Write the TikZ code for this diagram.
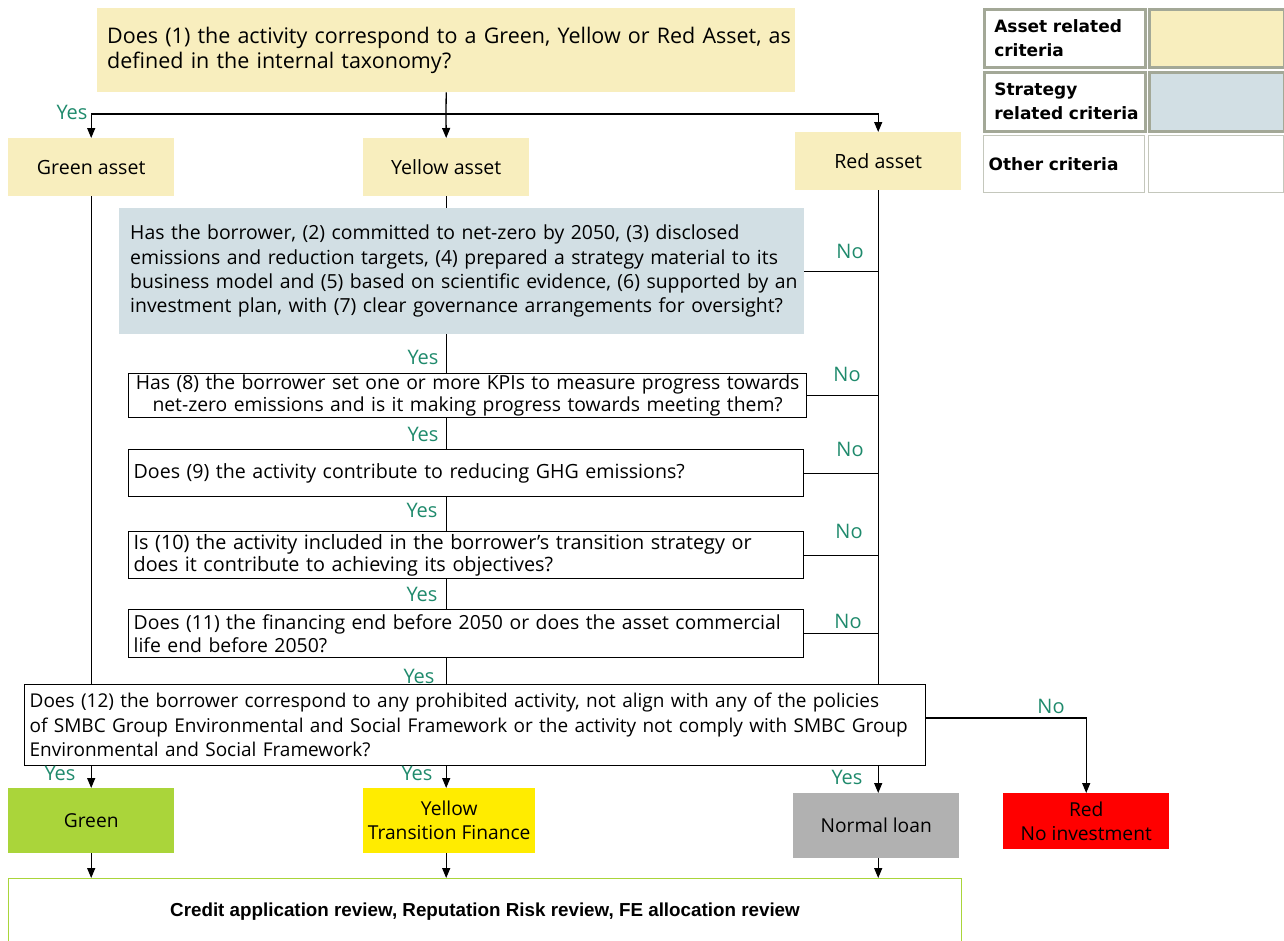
\documentclass[tikz,border=0pt]{standalone}
\usepackage{fontspec}
\setmainfont{Open Sans}
\newfontfamily\legfont{DejaVu Sans}
\newfontfamily\botfont{Liberation Sans}
\usetikzlibrary{arrows.meta}
\definecolor{assetY}{HTML}{F8EEBE}
\definecolor{stratB}{HTML}{D2DFE4}
\definecolor{yesG}{HTML}{1F8A6C}
\definecolor{greenB}{HTML}{AAD53A}
\definecolor{yellowB}{HTML}{FFEC00}
\definecolor{greyB}{HTML}{B1B1B1}
\definecolor{legB}{HTML}{A3A897}
\definecolor{legC}{HTML}{C4C7BC}
\newcommand{\oneline}[1]{\mbox{#1}}
\begin{document}
\begin{tikzpicture}[x=1pt,y=-1pt,
  base/.style={anchor=north west, inner sep=0pt, font=\fontsize{19.6}{24.5}\selectfont},
  abox/.style={base, fill=assetY, align=center},
  qbox/.style={base, draw=black, line width=1.3pt, align=left, inner xsep=5pt},
  sbox/.style={base, fill=stratB, align=left, inner xsep=11pt},
  rbox/.style={base, align=center, font=\fontsize{19.2}{24}\selectfont},
  lab/.style={text=yesG, font=\fontsize{20}{22}\selectfont, inner sep=0pt},
  conn/.style={line width=1.3pt},
  arr/.style={conn, -{Triangle[length=10pt,width=8pt]}},
  legl/.style={anchor=north west, inner sep=0pt, draw=legB, line width=2.5pt, align=left, font=\legfont\bfseries\fontsize{17}{24}\selectfont},
]
\useasboundingbox (0,0) rectangle (1284,940);

% top question
\node[abox, align=left, inner xsep=10pt, minimum width=698pt, minimum height=84pt, text width=678pt, font=\fontsize{21.5}{25}\selectfont] (q1) at (97,8)
 {\oneline{Does (1) the activity correspond to a Green, Yellow or Red Asset, as}\\ \oneline{defined in the internal taxonomy?}};

% asset boxes
\node[abox, minimum width=166pt, minimum height=58pt] (ga) at (8,138) {Green asset};
\node[abox, minimum width=166pt, minimum height=58pt] (ya) at (363,138) {Yellow asset};
\node[abox, minimum width=166pt, minimum height=58pt] (ra) at (795,132) {Red asset};

% strategy question
\node[sbox, minimum width=685pt, minimum height=126pt, text width=663pt, font=\fontsize{19.4}{24.3}\selectfont] (st) at (119,208)
 {\oneline{Has the borrower, (2) committed to net-zero by 2050, (3) disclosed}\\
  \oneline{emissions and reduction targets, (4) prepared a strategy material to its}\\
  \oneline{business model and (5) based on scientific evidence, (6) supported by an}\\
  \oneline{investment plan, with (7) clear governance arrangements for oversight?}};

\node[qbox, align=center, minimum width=678pt, minimum height=44pt, text width=668pt, font=\fontsize{19.35}{22}\selectfont] (kpi) at (128,373)
 {\oneline{Has (8) the borrower set one or more KPIs to measure progress towards}\\ \oneline{net-zero emissions and is it making progress towards meeting them?}};
\node[qbox, minimum width=675pt, minimum height=47pt, text width=665pt] (q9) at (128,449)
 {\oneline{Does (9) the activity contribute to reducing GHG emissions?}};
\node[qbox, minimum width=675pt, minimum height=47pt, text width=665pt, font=\fontsize{19.8}{22.5}\selectfont] (q10) at (128,531)
 {\oneline{Is (10) the activity included in the borrower’s transition strategy or}\\ \oneline{does it contribute to achieving its objectives?}};
\node[qbox, minimum width=675pt, minimum height=48pt, text width=665pt, font=\fontsize{19.4}{22.5}\selectfont] (q11) at (128,609)
 {\oneline{Does (11) the financing end before 2050 or does the asset commercial}\\ \oneline{life end before 2050?}};
\node[qbox, minimum width=901pt, minimum height=81pt, text width=891pt, font=\fontsize{19}{24.5}\selectfont] (q12) at (24,684)
 {\oneline{Does (12) the borrower correspond to any prohibited activity, not align with any of the policies}\\
  \oneline{of SMBC Group Environmental and Social Framework or the activity not comply with SMBC Group}\\
  \oneline{Environmental and Social Framework?}};

% result boxes
\node[rbox, fill=greenB, minimum width=166pt, minimum height=65pt] (gr) at (8,788) {Green};
\node[rbox, fill=yellowB, minimum width=172pt, minimum height=65pt] (yl) at (363,788) {Yellow\\Transition Finance};
\node[rbox, fill=greyB, minimum width=166pt, minimum height=65pt] (nl) at (793,793) {Normal loan};
\node[rbox, fill=red, minimum width=166pt, minimum height=56pt] (rd) at (1003,793) {Red\\No investment};

% bottom review box
\node[anchor=north west, inner sep=0pt, draw=greenB, line width=1pt, minimum width=953pt, minimum height=66pt,
      font=\botfont\bfseries\fontsize{18.8}{20}\selectfont] (rev) at (8,878)
 {Credit application review, Reputation Risk review, FE allocation review};

% legend
\node[legl, minimum width=161pt, minimum height=58pt, text width=141pt, inner xsep=10pt] (l1) at (983,8) {\oneline{Asset related}\\\oneline{criteria}};
\node[legl, fill=assetY, minimum width=135pt, minimum height=58pt] (l1c) at (1148,8) {};
\node[legl, minimum width=161pt, minimum height=59pt, text width=141pt, inner xsep=10pt] (l2) at (983,71) {\oneline{Strategy}\\\oneline{related criteria}};
\node[legl, fill=stratB, minimum width=135pt, minimum height=59pt] (l2c) at (1148,71) {};
\node[legl, draw=legC, line width=1.3pt, minimum width=161pt, minimum height=57pt, text width=151pt, inner xsep=5pt] (l3) at (983,135) {\oneline{Other criteria}};
\node[legl, draw=legC, line width=1.3pt, minimum width=135pt, minimum height=57pt] (l3c) at (1148,135) {};

% connectors: top split
\coordinate (j1) at (446,114);
\draw[conn] (q1.south) -- (j1);
\draw[arr] (j1) -| (ga.north);
\draw[arr] (j1) -- (ya.north);
\draw[arr] (j1) -| (ra.north);
\node[lab] (y0) at (72,112) {Yes};

% green and red asset trunks
\draw[conn] (ga.south) -- (ga.south |- q12.north);
\draw[conn] (ra.south) -- (ra.south |- q12.north);

% yellow chain
\draw[conn] (ya.south) -- (ya.south |- st.north);
\draw[conn] (ya.south |- st.south) -- (ya.south |- kpi.north);
\draw[conn] (ya.south |- kpi.south) -- (ya.south |- q9.north);
\draw[conn] (ya.south |- q9.south) -- (ya.south |- q10.north);
\draw[conn] (ya.south |- q10.south) -- (ya.south |- q11.north);
\draw[conn] (ya.south |- q11.south) -- (ya.south |- q12.north);
\node[lab] (y1) at (423,357) {Yes};
\node[lab] (y2) at (423,434) {Yes};
\node[lab] (y3) at (422,510) {Yes};
\node[lab] (y4) at (422,594) {Yes};
\node[lab] (y5) at (419,676) {Yes};

% no branches
\draw[conn] (st.east) -- (st.east -| ra.south);
\draw[conn] (kpi.east) -- (kpi.east -| ra.south);
\draw[conn] (q9.east) -- (q9.east -| ra.south);
\draw[conn] (q10.east) -- (q10.east -| ra.south);
\draw[conn] (q11.east) -- (q11.east -| ra.south);
\node[lab] (n1) at (850,251) {No};
\node[lab] (n2) at (847,374) {No};
\node[lab] (n3) at (850,449) {No};
\node[lab] (n4) at (849,531) {No};
\node[lab] (n5) at (848,621) {No};

% q12 outputs
\coordinate (q12r) at (925,718);
\draw[arr] (q12r) -| (rd.north);
\node[lab] (n6) at (1051,706) {No};
\draw[arr] (q12.south -| gr.north) -- (gr.north);
\draw[arr] (q12.south -| ya.south) -- (ya.south |- yl.north);
\draw[arr] (q12.south -| ra.south) -- (ra.south |- nl.north);
\node[lab] (y6) at (60,773) {Yes};
\node[lab] (y7) at (417,773) {Yes};
\node[lab] (y8) at (847,777) {Yes};

% to review box
\draw[arr] (gr.south) -- (gr.south |- rev.north);
\draw[arr] (ya.south |- yl.south) -- (ya.south |- rev.north);
\draw[arr] (ra.south |- nl.south) -- (ra.south |- rev.north);
\end{tikzpicture}
\end{document}
